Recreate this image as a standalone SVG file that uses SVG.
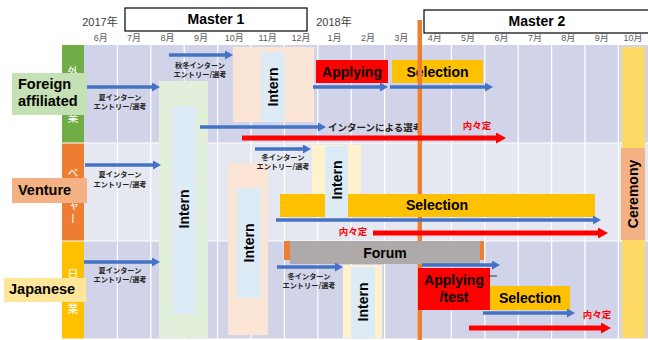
<svg xmlns="http://www.w3.org/2000/svg" width="648" height="340" viewBox="0 0 648 340">
<style>
.hdr{font-family:"Liberation Sans","Noto Sans CJK JP",sans-serif;fill:#404040;font-size:11px}
.mon{font-family:"Liberation Sans","Noto Sans CJK JP",sans-serif;fill:#595959;font-size:9px;text-anchor:middle}
.big{font-family:"Liberation Sans",Arial,sans-serif;font-weight:bold;font-size:14px;fill:#000;text-anchor:middle}
.lbl{font-family:"Liberation Sans",Arial,sans-serif;font-weight:bold;font-size:14.5px;fill:#000}
.sm{font-family:"Noto Sans CJK JP",sans-serif;font-weight:bold;font-size:7.2px;fill:#222;text-anchor:middle}
.jp{font-family:"Noto Sans CJK JP",sans-serif;font-weight:bold;font-size:9.5px;fill:#222}
.red{font-family:"Noto Sans CJK JP",sans-serif;font-weight:bold;font-size:9.5px;fill:#FF0000;text-anchor:middle}
.vt{font-family:"Noto Sans CJK JP",sans-serif;font-size:11px;fill:#fff;writing-mode:vertical-rl;letter-spacing:0.5px}
.grid{stroke:#fff;stroke-width:1.2}
.ba{stroke:#4472C4;stroke-width:3.5;fill:none;marker-end:url(#ab)}
.ra{stroke:#FF0000;stroke-width:5;fill:none;marker-end:url(#ar)}
.peach{fill:#FBE5D6}
.lgreen{fill:#E2EFDA}
.lyel{fill:#FFF2CC}
.lblue{fill:#DDEBF7}
.sel{fill:#FFC000}
.app{fill:#FF0000}
</style>
<defs>
<marker id="ab" markerUnits="userSpaceOnUse" markerWidth="8" markerHeight="9" refX="0" refY="4.5" orient="auto"><path d="M0,0 L8,4.5 L0,9z" fill="#4472C4"/></marker>
<marker id="ar" markerUnits="userSpaceOnUse" markerWidth="10" markerHeight="11" refX="0" refY="5.5" orient="auto"><path d="M0,0 L10,5.5 L0,11z" fill="#FF0000"/></marker>
</defs>
<rect width="648" height="340" fill="#fff"/>
<g id="header">
<text class="hdr" x="100" y="26" text-anchor="middle">2017年</text>
<text class="hdr" x="334" y="26" text-anchor="middle">2018年</text>
<rect x="125" y="8" width="182" height="23" fill="#fff" stroke="#000" stroke-width="1.2"/>
<text class="big" x="216" y="24">Master 1</text>
<rect x="424" y="10" width="230" height="23" fill="#fff" stroke="#000" stroke-width="1.2"/>
<text class="big" x="537" y="26">Master 2</text>
<text class="mon" x="100.7" y="41">6月</text>
<text class="mon" x="134.1" y="41">7月</text>
<text class="mon" x="167.5" y="41">8月</text>
<text class="mon" x="200.9" y="41">9月</text>
<text class="mon" x="234.3" y="41">10月</text>
<text class="mon" x="267.7" y="41">11月</text>
<text class="mon" x="301.1" y="41">12月</text>
<text class="mon" x="334.5" y="41">1月</text>
<text class="mon" x="367.9" y="41">2月</text>
<text class="mon" x="401.3" y="41">3月</text>
<text class="mon" x="434.7" y="41">4月</text>
<text class="mon" x="468.1" y="41">5月</text>
<text class="mon" x="501.5" y="41">6月</text>
<text class="mon" x="534.9" y="41">7月</text>
<text class="mon" x="568.3" y="41">8月</text>
<text class="mon" x="601.7" y="41">9月</text>
<text class="mon" x="633" y="41">10月</text>
</g>
<g id="grid">
<rect x="84" y="45" width="564" height="97.5" fill="#D1D4E9"/>
<rect x="84" y="143.5" width="564" height="97" fill="#E5E7F1"/>
<rect x="84" y="241.5" width="564" height="97" fill="#D1D4E9"/>
<path class="grid" d="M117.4,45V339M150.8,45V339M184.2,45V339M217.6,45V339M251,45V339M284.4,45V339M317.8,45V339M351.2,45V339M384.6,45V339M418,45V339M451.4,45V339M484.8,45V339M518.2,45V339M551.6,45V339M585,45V339M618.4,45V339"/>
</g>
<g id="bars">
<rect x="62" y="45" width="22" height="97.5" fill="#70AD47"/>
<rect x="62" y="143.5" width="22" height="97" fill="#ED7D31"/>
<rect x="62" y="241.5" width="22" height="97" fill="#FFC000"/>
<text class="vt" x="73" y="66.5">外資系企業</text>
<text class="vt" x="73" y="167">ベンチャー</text>
<text class="vt" x="73" y="268.5">日系企業</text>
</g>
<g id="ceremony-column"><rect x="622" y="47" width="23" height="291" fill="#FFD966"/></g>
<g id="r1-summer-intern">
<rect class="lgreen" x="159" y="81" width="49" height="257"/>
<rect class="lblue" x="172" y="106" width="24" height="208"/>
<text class="big" transform="translate(189,209) rotate(-90)">Intern</text>
</g>
<g id="r1-autumn-intern">
<rect class="peach" x="233" y="47" width="81" height="75"/>
<rect class="lblue" x="261" y="52" width="24" height="70"/>
<text class="big" transform="translate(278,87) rotate(-90)">Intern</text>
</g>
<g id="r1-applying"><rect class="app" x="316" y="60" width="72" height="23"/><text class="big" x="352" y="77">Applying</text></g>
<g id="r1-selection"><rect class="sel" x="392" y="60" width="91" height="23"/><text class="big" x="437.5" y="77">Selection</text></g>
<g id="r1-labels">
<text class="sm" x="120" y="99.5">夏インターン</text>
<text class="sm" x="120" y="108.5">エントリー/選考</text>
<text class="sm" x="200" y="68">秋冬インターン</text>
<text class="sm" x="200" y="77">エントリー/選考</text>
<text class="jp" x="328" y="131">インターンによる選考</text>
<text class="red" x="477" y="129">内々定</text>
</g>
<g id="now-line"><rect x="417.5" y="20" width="4.5" height="320" fill="#ED7D31"/></g>
<g id="r2-summer-label">
<text class="sm" x="120" y="177">夏インターン</text>
<text class="sm" x="120" y="187">エントリー/選考</text>
</g>
<g id="r2-intern-a">
<rect class="peach" x="228" y="163" width="40" height="172"/>
<rect class="lblue" x="237" y="188" width="24" height="110"/>
<text class="big" transform="translate(254,243) rotate(-90)">Intern</text>
</g>
<g id="r2-winter-label">
<text class="sm" x="283" y="160">冬インターン</text>
<text class="sm" x="283" y="169">エントリー/選考</text>
</g>
<g id="r2-intern-b-outer"><rect class="lyel" x="312" y="145" width="49" height="72"/></g>
<g id="r2-selection"><rect class="sel" x="280" y="194" width="315" height="23"/><text class="big" x="437" y="210">Selection</text></g>
<g id="r2-intern-b">
<rect class="lblue" x="325" y="146" width="23" height="71"/>
<text class="big" transform="translate(342,180) rotate(-90)">Intern</text>
</g>
<text class="red" x="353" y="235">内々定</text>
<g id="r2-ceremony"><rect x="621" y="148" width="24" height="92" fill="#F4B183"/><text class="big" transform="translate(638,194) rotate(-90)">Ceremony</text></g>
<g id="r3-summer-label">
<text class="sm" x="120" y="273">夏インターン</text>
<text class="sm" x="120" y="282">エントリー/選考</text>
</g>
<g id="r3-forum">
<rect x="284" y="241" width="200" height="19" fill="#ED7D31"/>
<rect x="290" y="241" width="190" height="23" fill="#AEAAAA"/>
<text class="big" x="385" y="258">Forum</text>
</g>
<g id="r3-winter-label">
<text class="sm" x="309" y="279">冬インターン</text>
<text class="sm" x="309" y="288">エントリー/選考</text>
</g>
<g id="r3-intern">
<rect class="lyel" x="343" y="265" width="39" height="73"/>
<rect class="lblue" x="351" y="267" width="24" height="71"/>
<text class="big" transform="translate(368,302) rotate(-90)">Intern</text>
</g>
<g id="r3-applying"><rect class="app" x="418" y="268" width="72" height="42"/><text class="big" x="454" y="285">Applying</text><text class="big" x="454" y="302">/test</text></g>
<g id="r3-selection"><rect class="sel" x="490" y="286" width="80" height="24"/><text class="big" x="530" y="303">Selection</text></g>
<text class="red" x="597" y="318">内々定</text>
<g id="connectors">
<line class="ba" x1="87" y1="87" x2="152" y2="87"/>
<line class="ba" x1="169" y1="55" x2="225" y2="55"/>
<line class="ba" x1="313" y1="87" x2="380" y2="87"/>
<line class="ba" x1="390" y1="87" x2="485" y2="87"/>
<line class="ba" x1="200" y1="127" x2="318" y2="127"/>
<line class="ra" x1="242" y1="138" x2="496" y2="138"/>
<line class="ba" x1="85" y1="165" x2="153" y2="165"/>
<line class="ba" x1="255" y1="149" x2="303" y2="149"/>
<line class="ba" x1="276" y1="220" x2="593" y2="220"/>
<line class="ra" x1="373" y1="233" x2="598" y2="233"/>
<line class="ba" x1="84" y1="262" x2="152" y2="262"/>
<line class="ba" x1="277" y1="267" x2="335" y2="267"/>
<line class="ba" x1="422" y1="265" x2="492" y2="265"/>
<line x1="488" y1="276" x2="497" y2="276" stroke="#333" stroke-width="1"/>
<line class="ba" x1="483" y1="313" x2="567" y2="313"/>
<line class="ra" x1="469" y1="328" x2="601" y2="328"/>
</g>
<g id="label-foreign"><rect x="12" y="73" width="75" height="42" fill="#C5E0B4"/><text class="lbl" x="18" y="89">Foreign</text><text class="lbl" x="18" y="106">affiliated</text></g>
<g id="label-venture"><rect x="12" y="178" width="75" height="25" fill="#F4B183"/><text class="lbl" x="18" y="195">Venture</text></g>
<g id="label-japanese"><rect x="4" y="278" width="82" height="24" fill="#FFE699"/><text class="lbl" x="9" y="294">Japanese</text></g>
</svg>
